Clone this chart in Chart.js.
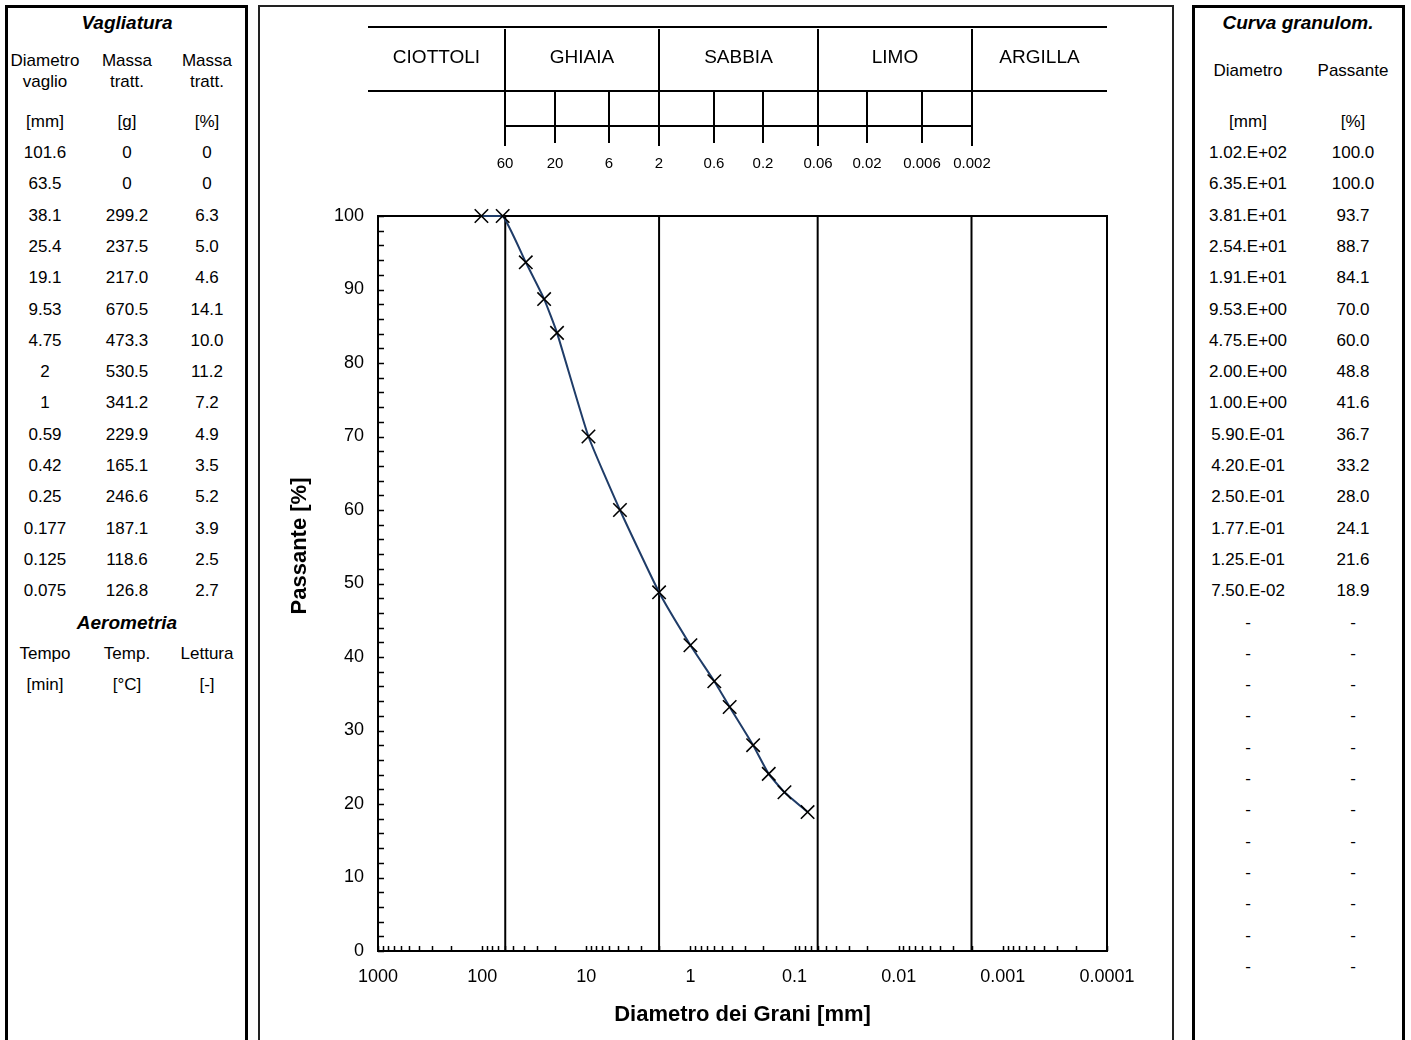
<!DOCTYPE html>
<html>
<head>
<meta charset="utf-8">
<title>Curva granulometrica</title>
<script src="https://cdn.jsdelivr.net/npm/chart.js@4.4.1/dist/chart.umd.min.js"></script>
<style>
  body {
    margin: 0;
    width: 1411px;
    height: 1040px;
    overflow: hidden;
    background: #fff;
    color: #000;
    position: relative;
    font-family: "Liberation Sans", Arial, sans-serif;
  }
  .panel {
    position: absolute;
    top: 5px;
    height: 1100px;
    box-sizing: border-box;
    border: 3px solid #000;
  }
  #left { left: 5px; width: 243px; }
  #mid { left: 258px; width: 916px; border: 2px solid #222; }
  #right { left: 1192px; width: 213px; }
  .cell {
    position: absolute;
    width: 120px;
    height: 20px;
    line-height: 20px;
    text-align: center;
    font-size: 17px;
    white-space: nowrap;
  }
  .ttl { font-weight: bold; font-style: italic; font-size: 19px; width: 200px; }
  #ytitle {
    position: absolute;
    left: 199px;
    top: 532px;
    width: 200px;
    height: 28px;
    line-height: 28px;
    text-align: center;
    font-weight: bold;
    font-size: 22px;
    transform: rotate(-90deg);
  }
</style>
</head>
<body>

<div class="panel" id="left"></div>
<div class="panel" id="mid"><canvas id="grainChart" width="912" height="1033"></canvas></div>
<div class="panel" id="right"></div>
<div id="ytitle">Passante [%]</div>

<script>
// sieve analysis
const sieveSizes = [101.6, 63.5, 38.1, 25.4, 19.1, 9.53, 4.75, 2, 1, 0.59, 0.42, 0.25, 0.177, 0.125, 0.075];
const massRetained = [0, 0, 299.2, 237.5, 217.0, 670.5, 473.3, 530.5, 341.2, 229.9, 165.1, 246.6, 187.1, 118.6, 126.8];
const pctRetained = [0, 0, 6.3, 5.0, 4.6, 14.1, 10.0, 11.2, 7.2, 4.9, 3.5, 5.2, 3.9, 2.5, 2.7];
const passing = [100.0, 100.0, 93.7, 88.7, 84.1, 70.0, 60.0, 48.8, 41.6, 36.7, 33.2, 28.0, 24.1, 21.6, 18.9];
const emptyRows = 12;

// classification strip above the plot
const classNames = ["CIOTTOLI", "GHIAIA", "SABBIA", "LIMO", "ARGILLA"];
const classBounds = [60, 2, 0.06, 0.002];
const subBounds = [20, 6, 0.6, 0.2, 0.02, 0.006];
const stripLabels = [60, 20, 6, 2, 0.6, 0.2, 0.06, 0.02, 0.006, 0.002];

// axes
const xMin = 0.0001, xMax = 1000;
const yMin = 0, yMax = 100;

const FONT = '"Liberation Sans", Arial, sans-serif';

// ---------- side tables ----------
const ROW0 = 153, PITCH = 31.3;

function put(panel, text, cx, cy, cls) {
  const origin = panel.id === "left" ? { x: 8, y: 8 } : { x: 1195, y: 8 };
  const d = document.createElement("div");
  d.className = "cell" + (cls ? " " + cls : "");
  d.textContent = text;
  panel.appendChild(d);
  const w = cls ? 200 : 120;
  d.style.left = (cx - origin.x - w / 2) + "px";
  d.style.top = (cy - origin.y - 10) + "px";
}

function fmt1(v) {
  return v === 0 ? "0" : v.toFixed(1);
}

function sci(v) {
  const parts = v.toExponential(2).split("e");
  const n = parseInt(parts[1], 10);
  return parts[0] + ".E" + (n < 0 ? "-" : "+") + String(Math.abs(n)).padStart(2, "0");
}

const left = document.getElementById("left");
const right = document.getElementById("right");

put(left, "Vagliatura", 127, 23, "ttl");
put(left, "Diametro", 45, 61); put(left, "vaglio", 45, 82);
put(left, "Massa", 127, 61); put(left, "tratt.", 127, 82);
put(left, "Massa", 207, 61); put(left, "tratt.", 207, 82);
put(left, "[mm]", 45, 122); put(left, "[g]", 127, 122); put(left, "[%]", 207, 122);

sieveSizes.forEach((d, i) => {
  const cy = ROW0 + i * PITCH;
  put(left, String(d), 45, cy);
  put(left, fmt1(massRetained[i]), 127, cy);
  put(left, fmt1(pctRetained[i]), 207, cy);
  put(right, sci(d), 1248, cy);
  put(right, passing[i].toFixed(1), 1353, cy);
});

const aeroRow = ROW0 + sieveSizes.length * PITCH;
put(left, "Aerometria", 127, aeroRow, "ttl");
put(left, "Tempo", 45, aeroRow + PITCH); put(left, "Temp.", 127, aeroRow + PITCH); put(left, "Lettura", 207, aeroRow + PITCH);
put(left, "[min]", 45, aeroRow + 2 * PITCH); put(left, "[°C]", 127, aeroRow + 2 * PITCH); put(left, "[-]", 207, aeroRow + 2 * PITCH);

put(right, "Curva granulom.", 1298, 23, "ttl");
put(right, "Diametro", 1248, 71); put(right, "Passante", 1353, 71);
put(right, "[mm]", 1248, 122); put(right, "[%]", 1353, 122);
for (let i = 0; i < emptyRows; i++) {
  const cy = aeroRow + i * PITCH;
  put(right, "-", 1248, cy);
  put(right, "-", 1353, cy);
}

// ---------- chart ----------
const xTicks = [];
for (let n = -4; n <= 2; n++) {
  for (let k = 1; k <= 9; k++) xTicks.push(+(k * Math.pow(10, n)).toPrecision(6));
}
xTicks.push(xMax);

function isDecade(v) {
  const l = Math.log10(v);
  return Math.abs(l - Math.round(l)) < 1e-9;
}

// plot frame + inward tick marks
const frame = {
  id: "frame",
  beforeDatasetsDraw(chart) {
    const { ctx, chartArea: a, scales: { x, y } } = chart;
    ctx.save();
    ctx.strokeStyle = "#000";
    ctx.lineWidth = 1.5;
    ctx.beginPath();
    y.ticks.forEach(t => {
      const py = Math.round(y.getPixelForValue(t.value)) + 0.5;
      ctx.moveTo(a.left, py);
      ctx.lineTo(a.left + 6, py);
    });
    x.ticks.forEach(t => {
      const px = Math.round(x.getPixelForValue(t.value)) + 0.5;
      ctx.moveTo(px, a.bottom);
      ctx.lineTo(px, a.bottom - 5);
    });
    ctx.stroke();
    ctx.lineWidth = 2;
    ctx.strokeRect(a.left, a.top, a.right - a.left, a.bottom - a.top);
    ctx.restore();
  }
};

// soil classes strip drawn on the same x scale
const classStrip = {
  id: "classStrip",
  afterDraw(chart) {
    const { ctx, chartArea: a, scales: { x } } = chart;
    const L = a.left - 10, R = a.right;
    const yTop = 20, yMid = 84, yLow = 119;
    const px = v => Math.round(x.getPixelForValue(v));
    ctx.save();
    ctx.strokeStyle = "#000";
    ctx.lineWidth = 2;
    ctx.beginPath();
    ctx.moveTo(L, yTop); ctx.lineTo(R, yTop);
    ctx.moveTo(L, yMid); ctx.lineTo(R, yMid);
    ctx.moveTo(px(classBounds[0]), yLow); ctx.lineTo(px(classBounds[classBounds.length - 1]), yLow);
    classBounds.forEach(v => { ctx.moveTo(px(v), yTop + 2); ctx.lineTo(px(v), 139); });
    subBounds.forEach(v => { ctx.moveTo(px(v), yMid); ctx.lineTo(px(v), 136); });
    ctx.stroke();

    ctx.fillStyle = "#000";
    ctx.textAlign = "center";
    ctx.textBaseline = "middle";
    ctx.font = "19px " + FONT;
    const edges = [L].concat(classBounds.map(px), [R]);
    classNames.forEach((n, i) => ctx.fillText(n, (edges[i] + edges[i + 1]) / 2, 51));
    ctx.font = "15px " + FONT;
    stripLabels.forEach(v => ctx.fillText(String(v), px(v), 157));
    ctx.restore();
  }
};

const curve = {
  data: sieveSizes.map((d, i) => ({ x: d, y: passing[i] })),
  showLine: true,
  borderColor: "#1f3c68",
  borderWidth: 2,
  tension: 0.15,
  pointStyle: "crossRot",
  pointRadius: 9.5,
  pointBorderColor: "#000",
  pointBorderWidth: 1.6,
  pointBackgroundColor: "#000",
  clip: false
};

const boundaryLines = classBounds.map(v => ({
  data: [{ x: v, y: yMin }, { x: v, y: yMax }],
  showLine: true,
  borderColor: "#000",
  borderWidth: 2,
  pointRadius: 0
}));

new Chart(document.getElementById("grainChart"), {
  type: "scatter",
  data: { datasets: [curve].concat(boundaryLines) },
  options: {
    responsive: false,
    animation: false,
    devicePixelRatio: 1,
    events: [],
    layout: { padding: { top: 209, right: 65, left: 0, bottom: 0 } },
    plugins: { legend: { display: false }, tooltip: { enabled: false } },
    scales: {
      x: {
        type: "logarithmic",
        min: xMin,
        max: xMax,
        reverse: true,
        grid: { display: false, drawTicks: false },
        border: { display: false },
        afterBuildTicks(s) { s.ticks = xTicks.map(v => ({ value: v })); },
        afterFit(s) { s.height = 89; },
        ticks: {
          autoSkip: false,
          maxRotation: 0,
          padding: 15,
          color: "#000",
          font: { family: FONT, size: 18 },
          callback: v => isDecade(v) ? String(v) : ""
        },
        title: {
          display: true,
          text: "Diametro dei Grani [mm]",
          color: "#000",
          font: { family: FONT, size: 22, weight: "bold" },
          padding: { top: 0, bottom: 12 }
        }
      },
      y: {
        min: yMin,
        max: yMax,
        grid: { display: false, drawTicks: false },
        border: { display: false },
        afterFit(s) { s.width = 118; },
        ticks: {
          stepSize: 2,
          autoSkip: false,
          padding: 14,
          color: "#000",
          font: { family: FONT, size: 18 },
          callback: v => v % 10 === 0 ? v : ""
        }
      }
    }
  },
  plugins: [frame, classStrip]
});
</script>
</body>
</html>
